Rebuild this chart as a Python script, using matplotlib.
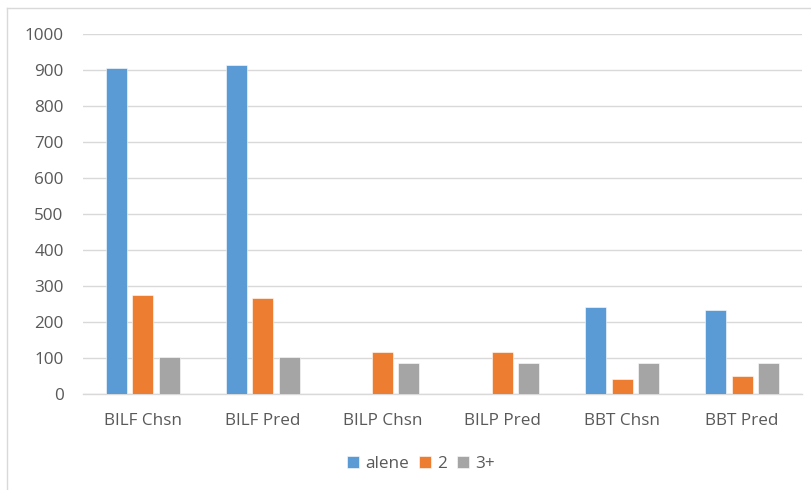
import matplotlib.pyplot as plt
from matplotlib.lines import Line2D
import numpy as np

# Data
categories = ['BILF Chsn', 'BILF Pred', 'BILP Chsn', 'BILP Pred', 'BBT Chsn', 'BBT Pred']
alene = [906, 914, 0, 0, 240, 232]
to = [274, 267, 117, 117, 40, 49]
tre_plus = [102, 102, 84, 84, 85, 85]
series_names = ['alene', '2', '3+']
colors = ['#5b9bd5', '#ed7d31', '#a5a5a5']
yticks = [0, 100, 200, 300, 400, 500, 600, 700, 800, 900, 1000]

W, H = 811, 490
fig = plt.figure(figsize=(W / 100, H / 100), dpi=100)
ax = fig.add_axes([83 / W, 1 - 393.7 / H, (802 - 83) / W, 360 / H])

x = np.arange(len(categories))
bw = 0.175
step = 0.22
for i, (vals, name, col) in enumerate(zip([alene, to, tre_plus], series_names, colors)):
    ax.bar(x + (i - 1) * step, vals, width=bw, color=col, label=name,
           edgecolor='white', linewidth=0.4, zorder=3)

ax.set_xlim(-0.5, len(categories) - 0.5)
ax.set_ylim(0, 1000)
ax.set_yticks(yticks)
ax.set_xticks(x)
ax.set_xticklabels(categories)

for s in ['top', 'right', 'left']:
    ax.spines[s].set_visible(False)
ax.spines['bottom'].set_color('#d9d9d9')
ax.spines['bottom'].set_linewidth(1.0)
ax.grid(axis='y', color='#d9d9d9', linewidth=1.0, zorder=0)
fs = 12.3
ax.tick_params(axis='both', length=0, colors='#595959', labelsize=fs)
ax.tick_params(axis='y', pad=14)
ax.tick_params(axis='x', pad=14)
for lab in ax.get_xticklabels() + ax.get_yticklabels():
    lab.set_fontfamily('Open Sans')

leg = ax.legend(loc='center', bbox_to_anchor=(421 / W, 1 - 464 / H),
                bbox_transform=fig.transFigure, ncol=3, frameon=False,
                handlelength=0.7, handleheight=0.7, handletextpad=0.35,
                columnspacing=0.6, prop={'family': 'Open Sans', 'size': fs})
for t in leg.get_texts():
    t.set_color('#595959')

# chart border (top and left edges visible)
fig.add_artist(Line2D([7 / W, 1], [1 - 8 / H, 1 - 8 / H], color='#d9d9d9', linewidth=1))
fig.add_artist(Line2D([7 / W, 7 / W], [0, 1 - 8 / H], color='#d9d9d9', linewidth=1))

fig.savefig('out.png', dpi=100)
